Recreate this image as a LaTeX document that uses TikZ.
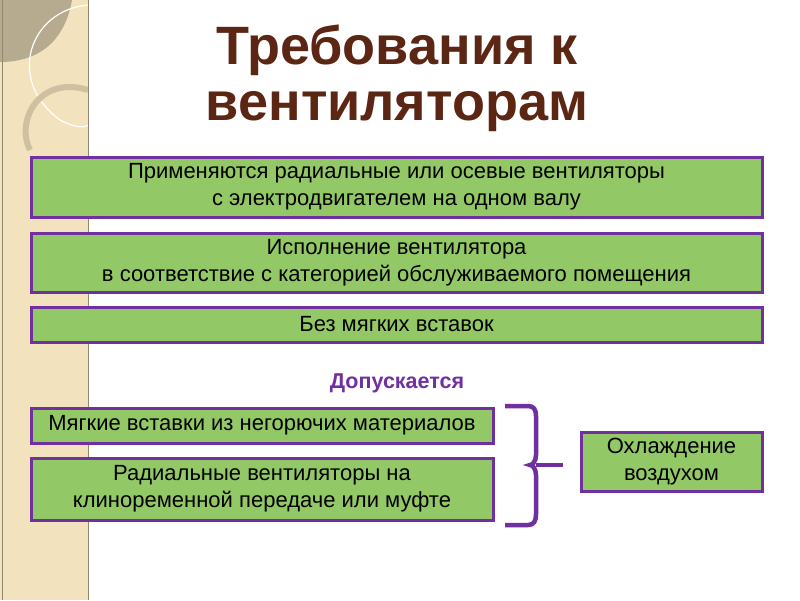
\documentclass[tikz,border=0pt]{standalone}
\usepackage{fontspec}
\setmainfont{Liberation Sans}
\begin{document}
\begin{tikzpicture}[x=1pt,y=-1pt,
  gbox/.style={draw=vio,fill=grn,line width=3pt,align=center,inner sep=1pt,font=\fontsize{22}{27}\selectfont},
]
\definecolor{vio}{RGB}{112,48,160}
\definecolor{grn}{RGB}{146,200,102}
\definecolor{beig}{RGB}{242,226,190}
\definecolor{ttl}{RGB}{92,38,20}
\useasboundingbox (0,0) rectangle (800,600);
\fill[white] (0,0) rectangle (800,600);
\fill[beig] (0,0) rectangle (88,600);
\fill[black!25!beig] (0,0) -- (72,0) .. controls (65,40) and (40,62) .. (0,62) -- cycle;
\draw[white,line width=1.2pt] (88,5) .. controls (30,10) and (5,80) .. (60,120) .. controls (75,128) and (85,128) .. (88,125);
\draw[black!15!beig,line width=6pt] (88,90) .. controls (40,75) and (15,120) .. (30,150);
\draw[black!40!beig,line width=1pt] (88,0) -- (88,600);
\draw[black!40!beig,line width=1pt] (2,0) -- (2,600);
\node[font=\bfseries\fontsize{54}{56}\selectfont,text=ttl,align=center] (title) at (397,78) {Требования к\\вентиляторам};
\node[gbox,minimum width=731,minimum height=60] (b1) at (396.5,187) {Применяются радиальные или осевые вентиляторы\\с электродвигателем на одном валу};
\node[gbox,minimum width=731,minimum height=59] (b2) at (396.5,262.5) {Исполнение вентилятора\\в соответствие с категорией обслуживаемого помещения};
\node[gbox,minimum width=731,minimum height=35] (b3) at (396.5,324.5) {Без мягких вставок};
\node[font=\bfseries\fontsize{21.5}{24}\selectfont,text=vio] (d) at (397,383) {Допускается};
\node[gbox,minimum width=462,minimum height=35] (b4) at (262,425.5) {Мягкие вставки из негорючих материалов};
\node[gbox,minimum width=462,minimum height=62] (b5) at (262,489) {Радиальные вентиляторы на\\клиноременной передаче или муфте};
\node[gbox,minimum width=181,minimum height=59] (b6) at (671.5,461.5) {Охлаждение\\воздухом};
\coordinate (bt) at (505,406);
\coordinate (bb) at (505,525);
\coordinate (tip) at (563,465);
\draw[vio,line width=4.5pt] (bt) -- (528,406) .. controls (534,406) and (536,410) .. (536,416) -- (536,455) .. controls (536,462) and (532,465) .. (530,465) .. controls (532,465) and (536,468) .. (536,475) -- (536,514) .. controls (536,521) and (534,525) .. (528,525) -- (bb);
\draw[vio,line width=4.5pt] (536,465) -- (tip);
\end{tikzpicture}
\end{document}
